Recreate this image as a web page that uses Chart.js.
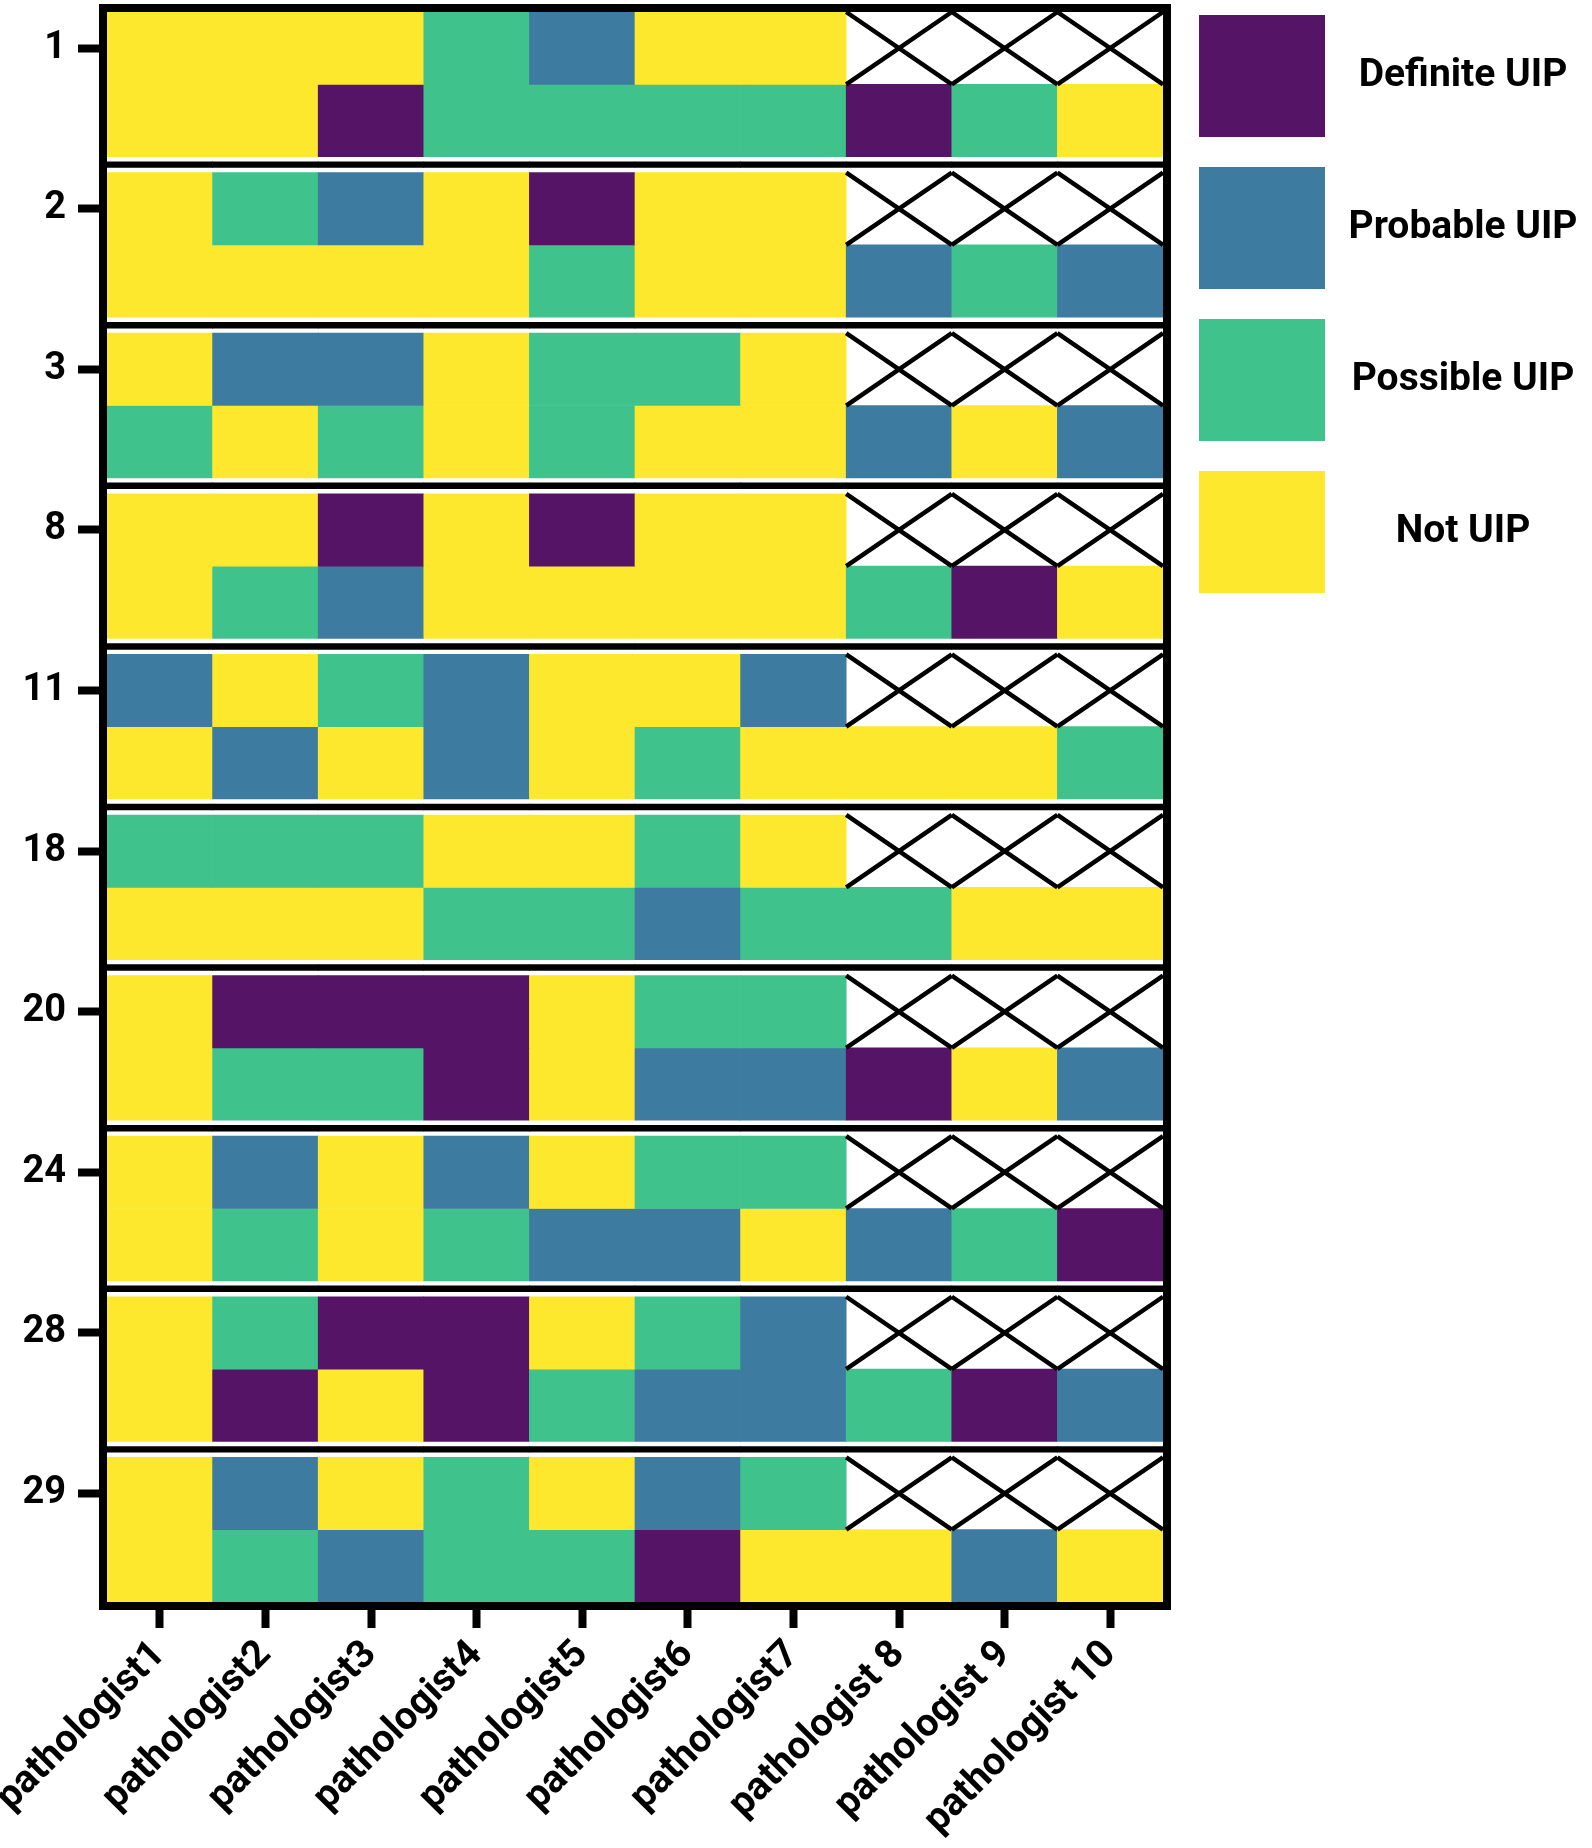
<!DOCTYPE html>
<html>
<head>
<meta charset="utf-8">
<script src="https://cdn.jsdelivr.net/npm/chart.js@4"></script>
<style>
  html, body { margin: 0; padding: 0; background: #fff; }
</style>
</head>
<body>
<canvas id="chart" width="1592" height="1848"></canvas>
<script>
// case numbers on the y axis, one block of two rows per case
const caseIds = ['1', '2', '3', '8', '11', '18', '20', '24', '28', '29'];
const pathologists = [
  'pathologist1', 'pathologist2', 'pathologist3', 'pathologist4', 'pathologist5',
  'pathologist6', 'pathologist7', 'pathologist 8', 'pathologist 9', 'pathologist 10'
];
const categories = ['Definite UIP', 'Probable UIP', 'Possible UIP', 'Not UIP'];
const categoryColors = ['#561467', '#3e7ba0', '#40c28c', '#fde82e'];

// 1 = definite, 2 = probable, 3 = possible, 4 = not UIP, 0 = not scored (crossed)
const firstRead = [
  [4, 4, 4, 3, 2, 4, 4, 0, 0, 0], // 1
  [4, 3, 2, 4, 1, 4, 4, 0, 0, 0], // 2
  [4, 2, 2, 4, 3, 3, 4, 0, 0, 0], // 3
  [4, 4, 1, 4, 1, 4, 4, 0, 0, 0], // 8
  [2, 4, 3, 2, 4, 4, 2, 0, 0, 0], // 11
  [3, 3, 3, 4, 4, 3, 4, 0, 0, 0], // 18
  [4, 1, 1, 1, 4, 3, 3, 0, 0, 0], // 20
  [4, 2, 4, 2, 4, 3, 3, 0, 0, 0], // 24
  [4, 3, 1, 1, 4, 3, 2, 0, 0, 0], // 28
  [4, 2, 4, 3, 4, 2, 3, 0, 0, 0]  // 29
];
const secondRead = [
  [4, 4, 1, 3, 3, 3, 3, 1, 3, 4], // 1
  [4, 4, 4, 4, 3, 4, 4, 2, 3, 2], // 2
  [3, 4, 3, 4, 3, 4, 4, 2, 4, 2], // 3
  [4, 3, 2, 4, 4, 4, 4, 3, 1, 4], // 8
  [4, 2, 4, 2, 4, 3, 4, 4, 4, 3], // 11
  [4, 4, 4, 3, 3, 2, 3, 3, 4, 4], // 18
  [4, 3, 3, 1, 4, 2, 2, 1, 4, 2], // 20
  [4, 3, 4, 3, 2, 2, 4, 2, 3, 1], // 24
  [4, 1, 4, 1, 3, 2, 2, 3, 1, 2], // 28
  [4, 3, 2, 3, 3, 1, 4, 4, 2, 4]  // 29
];

const FONT = "Roboto, 'Liberation Sans', Arial, sans-serif";
const GAP = 0.22;            // white band between cases, in row units
const BLOCK = 2 + GAP;
const yMax = caseIds.length * 2 + (caseIds.length - 1) * GAP;

const datasets = [];
caseIds.forEach((id, g) => {
  const top = g * BLOCK;
  [firstRead[g], secondRead[g]].forEach((row, r) => {
    datasets.push({
      label: 'case ' + id + ' row ' + (r + 1),
      data: row.map(() => [top + r, top + r + 1]),
      backgroundColor: row.map(v => v ? categoryColors[v - 1] : 'rgba(255,255,255,0)'),
      missing: row.map(v => v === 0)
    });
  });
  // black rule inside the white band
  if (g < caseIds.length - 1) {
    const c = top + 2 + GAP / 2;
    datasets.push({
      label: 'separator',
      data: pathologists.map(() => [c - 0.04, c + 0.04]),
      backgroundColor: '#000'
    });
  }
});

// X over every cell that was not scored
const crossPlugin = {
  id: 'cross',
  afterDatasetsDraw(chart) {
    const ctx = chart.ctx;
    ctx.save();
    ctx.strokeStyle = '#000';
    ctx.lineWidth = 4.5;
    chart.data.datasets.forEach((ds, i) => {
      if (!ds.missing) return;
      chart.getDatasetMeta(i).data.forEach((bar, j) => {
        if (!ds.missing[j]) return;
        const p = bar.getProps(['x', 'y', 'base', 'width'], true);
        const l = p.x - p.width / 2, r = p.x + p.width / 2;
        const t = Math.min(p.y, p.base), b = Math.max(p.y, p.base);
        ctx.beginPath();
        ctx.moveTo(l, t); ctx.lineTo(r, b);
        ctx.moveTo(l, b); ctx.lineTo(r, t);
        ctx.stroke();
      });
    });
    ctx.restore();
  }
};

// heavy frame round the plot
const framePlugin = {
  id: 'frame',
  afterDraw(chart) {
    const { ctx, chartArea: a } = chart;
    ctx.save();
    ctx.strokeStyle = '#000';
    ctx.lineWidth = 8;
    ctx.strokeRect(a.left - 4, a.top - 4, a.right - a.left + 8, a.bottom - a.top + 8);
    ctx.restore();
  }
};

// big colour keys on the right
const keyPlugin = {
  id: 'key',
  afterDraw(chart) {
    const { ctx, chartArea: a } = chart;
    ctx.save();
    ctx.font = 'bold 39px ' + FONT;
    ctx.textAlign = 'center';
    ctx.textBaseline = 'middle';
    categories.forEach((name, k) => {
      const x = a.right + 36, y = 15 + k * 152;
      ctx.fillStyle = categoryColors[k];
      ctx.fillRect(x, y, 126, 122);
      ctx.fillStyle = '#000';
      ctx.fillText(name, x + 264, y + 61);
    });
    ctx.restore();
  }
};

new Chart(document.getElementById('chart'), {
  type: 'bar',
  data: { labels: pathologists, datasets: datasets },
  options: {
    responsive: false,
    animation: false,
    devicePixelRatio: 1,
    layout: { padding: { top: 12, right: 429, left: 0, bottom: 0 } },
    datasets: {
      bar: { grouped: false, barPercentage: 1, categoryPercentage: 1, borderWidth: 0 }
    },
    plugins: {
      legend: { display: false },
      tooltip: { enabled: false }
    },
    scales: {
      x: {
        type: 'category',
        offset: true,
        grid: { offset: false, drawOnChartArea: false, color: '#000', tickLength: 26, tickWidth: 8 },
        border: { display: false },
        ticks: {
          color: '#000',
          font: { family: FONT, size: 39, weight: 'bold' },
          minRotation: 45,
          maxRotation: 45,
          autoSkip: false,
          padding: 4
        },
        afterFit(scale) {
          scale.height = 246;
          scale.paddingLeft = 0;
          scale.paddingRight = 0;
        }
      },
      y: {
        type: 'linear',
        reverse: true,
        min: 0,
        max: yMax,
        afterBuildTicks(scale) {
          scale.ticks = caseIds.map((id, g) => ({ value: g * BLOCK + 0.5 }));
        },
        grid: { drawOnChartArea: false, color: '#000', tickLength: 29, tickWidth: 8 },
        border: { display: false },
        ticks: {
          color: '#000',
          font: { family: FONT, size: 38, weight: 'bold' },
          padding: 12,
          autoSkip: false,
          callback: (value, index) => caseIds[index]
        },
        afterFit(scale) {
          scale.width = 107;
          scale.paddingTop = 0;
          scale.paddingBottom = 0;
        }
      }
    }
  },
  plugins: [crossPlugin, framePlugin, keyPlugin]
});
</script>
</body>
</html>
